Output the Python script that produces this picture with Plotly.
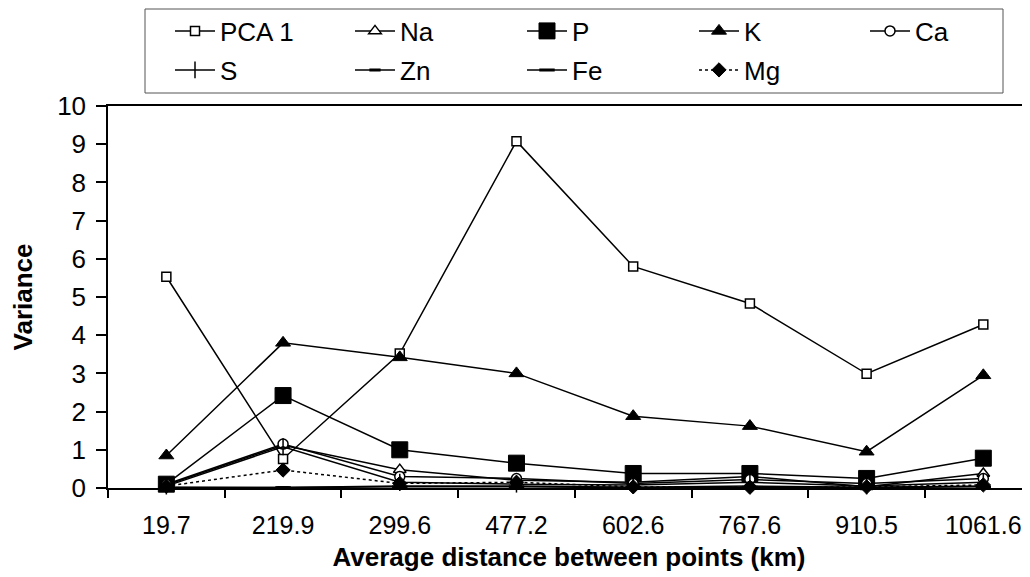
import plotly.graph_objects as go

distances = ["19.7", "219.9", "299.6", "477.2", "602.6", "767.6", "910.5", "1061.6"]

pca1 = [5.53, 0.76, 3.52, 9.08, 5.80, 4.83, 2.99, 4.28]
na = [0.08, 1.12, 0.48, 0.20, 0.15, 0.30, 0.03, 0.38]
p = [0.10, 2.42, 1.00, 0.65, 0.38, 0.38, 0.25, 0.78]
k = [0.85, 3.80, 3.42, 3.00, 1.88, 1.62, 0.95, 2.95]
ca = [0.10, 1.15, 0.30, 0.25, 0.12, 0.22, 0.12, 0.25]
s = [0.05, 1.08, 0.15, 0.10, 0.08, 0.15, 0.05, 0.15]
zn = [0.02, 0.01, 0.05, 0.05, 0.02, 0.05, 0.02, 0.05]
fe = [0.01, 0.01, 0.03, 0.03, 0.01, 0.02, 0.01, 0.03]
mg = [0.05, 0.47, 0.12, 0.15, 0.03, 0.02, 0.03, 0.08]

# page offset from default html body margin
OFF = 8
PAGE_W, PAGE_H = 1030, 577
PL, PT, PB, PR = 108, 106, 488, 1030  # plot area in page pixels
W, H = PAGE_W - OFF, PAGE_H - OFF
L, T, B, R = PL - OFF, PT - OFF, PAGE_H - PB, 0
PW, PH = PR - PL, PB - PT

def px(xp):
    return (xp - PL) / PW

def py(yp):
    return (PB - yp) / PH

FONT = "Liberation Sans, Arial, sans-serif"

series = [
    ("PCA 1", pca1, dict(symbol="square", size=9, color="white", line=dict(color="black", width=1.5)), "solid"),
    ("Na", na, dict(symbol="triangle-up", size=11, color="white", line=dict(color="black", width=1.5)), "solid"),
    ("P", p, dict(symbol="square", size=16, color="black", line=dict(color="black", width=1)), "solid"),
    ("K", k, dict(symbol="triangle-up", size=13, color="black", line=dict(color="black", width=1)), "solid"),
    ("Ca", ca, dict(symbol="circle", size=10, color="white", line=dict(color="black", width=1.5)), "solid"),
    ("S", s, dict(symbol="line-ns", size=12, color="black", line=dict(color="black", width=1.5)), "solid"),
    ("Zn", zn, dict(symbol="line-ew", size=8, color="black", line=dict(color="black", width=3)), "solid"),
    ("Fe", fe, dict(symbol="line-ew", size=11, color="black", line=dict(color="black", width=3)), "solid"),
    ("Mg", mg, dict(symbol="diamond", size=11, color="black", line=dict(color="black", width=1)), "dot"),
]

# legend text start x (page px) and row center y (page px)
text_x = [222, 402, 574, 746, 917, 222, 402, 574, 746]
row_y = [31, 31, 31, 31, 31, 70, 70, 70, 70]

fig = go.Figure()
layout_legends = {}
for i, (name, vals, marker, dash) in enumerate(series):
    lname = "legend" if i == 0 else f"legend{i+1}"
    fig.add_trace(go.Scatter(
        x=distances, y=vals, name=name, mode="lines+markers",
        line=dict(color="black", width=1.5, dash=dash),
        marker=marker, legend=lname, cliponaxis=False,
    ))
    layout_legends[lname] = dict(
        x=px(text_x[i] - 52), y=py(row_y[i]), xanchor="left", yanchor="middle",
        bgcolor="rgba(0,0,0,0)", borderwidth=0,
        font=dict(family=FONT, size=26, color="black"),
        itemwidth=40,
    )

fig.update_layout(
    width=W, height=H,
    margin=dict(l=L, r=R, t=T, b=B, autoexpand=False),
    paper_bgcolor="white", plot_bgcolor="white",
    font=dict(family=FONT, size=26, color="black"),
    showlegend=True,
    **layout_legends,
)

fig.update_xaxes(
    type="category", range=[-0.5, 7.40],
    showline=True, linecolor="black", linewidth=1.5, mirror=True,
    ticks="outside", ticklen=8, tickwidth=1.5, tickcolor="black",
    tickson="boundaries", showgrid=False, zeroline=False,
    tickfont=dict(family=FONT, size=25), ticklabelstandoff=14,
    title=dict(text="<b>Average distance between points (km)</b>",
               font=dict(family=FONT, size=26), standoff=10),
)
fig.update_yaxes(
    range=[0, 10], dtick=1,
    showline=True, linecolor="black", linewidth=1.5,
    ticks="outside", ticklen=10, tickwidth=1.5, tickcolor="black",
    showgrid=False, zeroline=False,
    tickfont=dict(family=FONT, size=26), ticklabelstandoff=5,
    title=dict(text="<b>Variance</b>", font=dict(family=FONT, size=26), standoff=18),
)

fig.add_shape(type="rect", xref="paper", yref="paper",
              x0=px(145), x1=px(1003), y0=py(93), y1=py(9),
              line=dict(color="#555555", width=1), fillcolor="rgba(0,0,0,0)")

fig.write_html("out.html")
